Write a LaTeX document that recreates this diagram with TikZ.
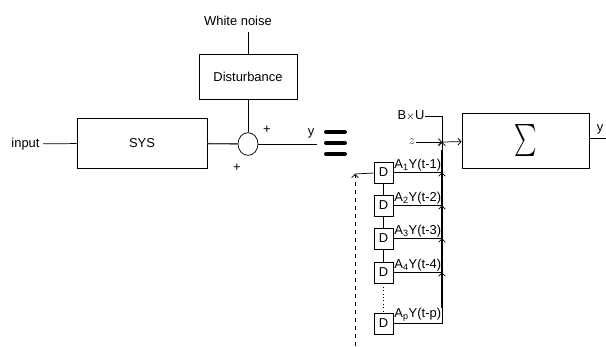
\documentclass[tikz,border=0pt]{standalone}
\usepackage{fontspec}
\setmainfont{Liberation Sans}
\usetikzlibrary{shapes.geometric,arrows.meta}
\begin{document}
\begin{tikzpicture}[
  x=0.75pt, y=-0.75pt,
  >={Straight Barb[length=2.4pt,width=5pt]},
  every node/.style={font=\fontsize{9.7}{11}\selectfont},
  every path/.style={line width=0.55pt},
  block/.style={draw, inner sep=0pt},
  label_text/.style={inner sep=0.5pt},
  delay/.style={draw, inner sep=0pt, minimum width=14.25pt, minimum height=15.75pt},
  sumpoint/.style={draw, ellipse, inner sep=0pt, minimum width=15pt, minimum height=17pt},
  eqbar/.style={line width=3pt, line cap=round},
  feed/.style={line width=1.5pt}
  ]
	\useasboundingbox (0,0) rectangle (606,346);

	\node[label_text] (noise) at (238,21) {White noise};
	\node[block, minimum width=73.5pt, minimum height=33.75pt] (dist) at (248,76.5) {Disturbance};
	\node[label_text, inner xsep=2.5pt] (in) at (25.5,144) {input};
	\node[block, minimum width=97.5pt, minimum height=37.5pt] (sys) at (142,143) {SYS};
	\node[sumpoint] (add) at (248,144) {};
	\node[label_text] (p1) at (267,130) {+};
	\node[label_text] (p2) at (237,168) {+};
	\node[label_text] (y) at (311,133) {y};
	\coordinate (wn) at (248,32);
	\coordinate (out) at (317,144);

	\draw (wn) -- (dist);
	\draw (dist) -- (add);
	\draw (in) -- (sys);
	\draw[line width=1pt, black!75] (sys) -- (add);
	\draw (add) -- (out);

	\draw[eqbar] (326,132) -- (345,132);
	\draw[eqbar] (326,143) -- (345,143);
	\draw[eqbar] (326,154) -- (345,154);

	\node[block, minimum width=95.25pt, minimum height=41.25pt] (sum) at (525.5,140.5)
	  {\scalebox{1.6}[2.4]{$\sum$}};
	\node[label_text] (y2) at (600,129) {y};
	\node[label_text] (bxu) at (411,116) {B{\footnotesize$\times$}U};
	\node[label_text, black!70] (z) at (412,142) {$z$};
	\coordinate (yout) at (606,138);
	\coordinate (jz) at (442,142);

	\node[delay] (d1) at (383.5,172.5) {D};
	\node[delay] (d2) at (383.5,205.5) {D};
	\node[delay] (d3) at (383.5,238.5) {D};
	\node[delay] (d4) at (383.5,272.5) {D};
	\node[delay] (dp) at (383.5,323.5) {D};

	\coordinate (j1) at (d1 -| jz);
	\coordinate (j2) at (d2 -| jz);
	\coordinate (j3) at (d3 -| jz);
	\coordinate (j4) at (d4 -| jz);
	\coordinate (jp) at (dp -| jz);

	\node[label_text, anchor=south west] (a1) at ([yshift=0.5pt]d1.east) {A\textsubscript{1}Y(t-1)};
	\node[label_text, anchor=south west] (a2) at ([yshift=0.5pt]d2.east) {A\textsubscript{2}Y(t-2)};
	\node[label_text, anchor=south west] (a3) at ([yshift=0.5pt]d3.east) {A\textsubscript{3}Y(t-3)};
	\node[label_text, anchor=south west] (a4) at ([yshift=0.5pt]d4.east) {A\textsubscript{4}Y(t-4)};
	\node[label_text, anchor=south west] (ap) at ([yshift=0.5pt]dp.east) {A\textsubscript{p}Y(t-p)};

	\draw (sum.east |- yout) -- (yout);
	\draw (bxu) -| (jz);
	\draw[->] (z) -- (jz);
	\draw[->] (jz) -- (sum);

	\draw (d1) -- (j1);
	\draw (d2) -- (j2);
	\draw (d3) -- (j3);
	\draw (d4) -- (j4);
	\draw (dp) -- (jp);

	\draw[feed] ([yshift=-6pt]jz) -- ([yshift=12pt]jp);
	\draw[->] (jp) -- (j4);
	\draw[->] (j4) -- (j3);
	\draw[->] (j3) -- (j2);
	\draw[->] (j2) -- (j1);
	\draw[->] (j1) -- (jz);

	\draw (d1) -- (d2);
	\draw (d2) -- (d3);
	\draw (d3) -- (d4);
	\draw[dotted] (d4) -- (dp);

	\coordinate (fb) at (355,174);
	\coordinate (fbot) at (355,346);
	\draw[dashed, ->] (fbot) -- (fb);
	\draw (fb) -- (d1);
\end{tikzpicture}
\end{document}
